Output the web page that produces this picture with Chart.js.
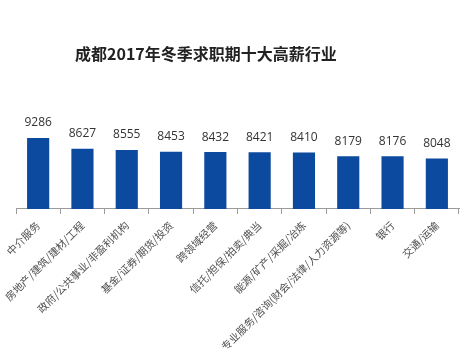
<!DOCTYPE html>
<html>
<head>
<meta charset="utf-8">
<script src="https://cdn.jsdelivr.net/npm/chart.js@4"></script>
<style>
  body { margin: 0; background: #fff; }
  #wrap { position: relative; width: 467px; height: 354px; }
</style>
</head>
<body>
<div id="wrap"><canvas id="salary-chart" width="467" height="354"></canvas></div>
<script>
const chartTitle = '成都2017年冬季求职期十大高薪行业';
const industries = [
    '中介服务',
    '房地产/建筑/建材/工程',
    '政府/公共事业/非盈利机构',
    '基金/证券/期货/投资',
    '跨领域经营',
    '信托/担保/拍卖/典当',
    '能源/矿产/采掘/冶炼',
    '专业服务/咨询(财会/法律/人力资源等)',
    '银行',
    '交通/运输'
];
const salaries = [9286, 8627, 8555, 8453, 8432, 8421, 8410, 8179, 8176, 8048];

// Draws the title and the value above each bar
const titlePlugin = {
    id: 'titlePlugin',
    afterDraw: (chart) => {
        const ctx = chart.ctx;
        ctx.save();
        ctx.font = 'bold 16px "Noto Sans CJK SC"';
        ctx.fillStyle = '#222222';
        ctx.textAlign = 'left';
        ctx.textBaseline = 'middle';
        ctx.fillText(chartTitle, 75, 54);
        ctx.restore();
    }
};

const valueLabels = {
    id: 'valueLabels',
    afterDatasetsDraw: (chart) => {
        const ctx = chart.ctx;
        const meta = chart.getDatasetMeta(0);
        ctx.save();
        ctx.font = '12px "Open Sans"';
        ctx.fillStyle = '#333333';
        ctx.textAlign = 'center';
        ctx.textBaseline = 'bottom';
        meta.data.forEach((bar, i) => {
            ctx.fillText(chart.data.datasets[0].data[i], bar.x, bar.y - 9);
        });
        ctx.restore();
    }
};

const ctx = document.getElementById('salary-chart').getContext('2d');
const salaryChart = new Chart(ctx, {
    type: 'bar',
    data: {
        labels: industries,
        datasets: [
            {
                label: '薪资',
                data: salaries,
                backgroundColor: '#0B4A9E',
                categoryPercentage: 1,
                barPercentage: 0.5,
            },
        ],
    },
    options: {
        responsive: false,
        animation: false,
        layout: {
            padding: { top: 30, left: 16, right: 8, bottom: -4 },
        },
        plugins: {
            legend: { display: false },
            tooltip: { enabled: false },
        },
        scales: {
            x: {
                border: { display: true, color: '#9a9a9a', width: 1 },
                grid: {
                    display: true,
                    offset: true,
                    drawOnChartArea: false,
                    drawTicks: true,
                    tickLength: 5,
                    color: '#9a9a9a',
                },
                ticks: {
                    minRotation: 45,
                    maxRotation: 45,
                    autoSkip: false,
                    padding: 5,
                    color: '#505050',
                    font: { size: 10.5, family: '"Noto Sans CJK SC"' },
                },
            },
            y: {
                display: false,
                min: 5000,
                max: 15800,
            },
        },
    },
    plugins: [titlePlugin, valueLabels],
});
</script>
</body>
</html>
